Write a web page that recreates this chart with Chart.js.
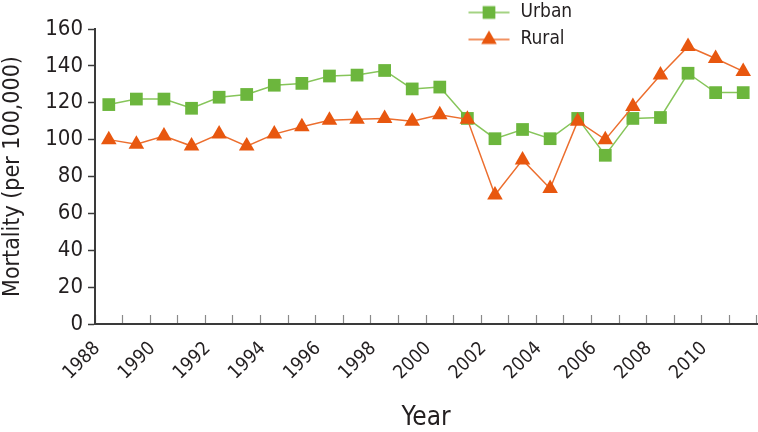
<!DOCTYPE html>
<html>
<head>
<meta charset="utf-8">
<script src="https://cdn.jsdelivr.net/npm/chart.js@4/dist/chart.umd.min.js"></script>
<style>
html,body{margin:0;padding:0;background:#fff;}
#c{display:block;}
</style>
</head>
<body>
<canvas id="c" width="758" height="432"></canvas>
<script>
// ---- data ----
const years = ['1988','1989','1990','1991','1992','1993','1994','1995','1996','1997','1998','1999',
               '2000','2001','2002','2003','2004','2005','2006','2007','2008','2009','2010','2011'];
const urban = [119,122,122,117,123,124.5,129.5,130.5,134.5,135,137.5,127.5,
               128.5,111.5,100.5,105.5,100.5,111.5,91.5,111.5,112,136,125.5,125.5];
const rural = [100,97.5,102,96.5,103,96.5,103,107,110.5,111,111.5,110,
               113.5,111,70,89,73.5,110,100,118,135,150.5,144,137];
const xTickLabels = ['1988','1990','1992','1994','1996','1998','2000','2002','2004','2006','2008','2010'];
const yTickValues = [0,20,40,60,80,100,120,140,160];
const seriesNames = ['Urban','Rural'];

// ---- styles ----
const FONT = "'Liberation Sans Narrow','DejaVu Sans Condensed','Roboto Condensed',sans-serif";
const TEXT = '#231f20';
const AXIS = '#3a3a3a';
const urbanLine = '#86c55a', urbanFill = '#6cb63d';
const ruralLine = '#ec6e2e', ruralFill = '#e8570f';

Chart.defaults.font.family = FONT;
Chart.defaults.color = TEXT;

function legendIcon(lineColor, fillColor, style) {
  const cv = document.createElement('canvas');
  cv.width = 44; cv.height = 22;
  const g = cv.getContext('2d');
  g.strokeStyle = lineColor; g.lineWidth = 1.5;
  g.beginPath(); g.moveTo(1.5, 11); g.lineTo(42.5, 11); g.stroke();
  g.fillStyle = fillColor; g.strokeStyle = fillColor;
  Chart.helpers.drawPoint(g, {pointStyle: style, radius: 9, borderWidth: 0, rotation: 0}, 22, 11);
  return cv;
}
const icons = [legendIcon(urbanLine, urbanFill, 'rect'), legendIcon(ruralLine, ruralFill, 'triangle')];

const placeLegend = {
  id: 'placeLegend',
  afterLayout(chart) {
    const l = chart.legend;
    if (!l) return;
    l.left = 459; l.top = -5; l.right = 640; l.bottom = 70;
    l.width = l.right - l.left; l.height = l.bottom - l.top;
  }
};

new Chart(document.getElementById('c'), {
  type: 'line',
  data: {
    labels: years,
    datasets: [
      {
        label: seriesNames[0], data: urban, order: 2,
        borderColor: urbanLine, borderWidth: 1.5, tension: 0,
        pointStyle: 'rect', pointRadius: 9, pointHoverRadius: 9,
        pointBackgroundColor: urbanFill, pointBorderColor: urbanFill, pointBorderWidth: 0
      },
      {
        label: seriesNames[1], data: rural, order: 1,
        borderColor: ruralLine, borderWidth: 1.5, tension: 0,
        pointStyle: 'triangle', pointRadius: 9, pointHoverRadius: 9,
        pointBackgroundColor: ruralFill, pointBorderColor: ruralFill, pointBorderWidth: 0
      }
    ]
  },
  options: {
    responsive: false,
    animation: false,
    devicePixelRatio: 1,
    layout: { autoPadding: false, padding: { top: 29, right: 1, left: 0, bottom: 0 } },
    plugins: {
      tooltip: { enabled: false },
      legend: {
        position: 'chartArea',
        align: 'start',
        labels: {
          usePointStyle: true,
          pointStyleWidth: 44,
          padding: 8,
          color: TEXT,
          font: { size: 19, family: FONT },
          generateLabels: (chart) => chart.data.datasets.map((d, i) => ({
            text: d.label, pointStyle: icons[i], datasetIndex: i,
            fontColor: TEXT, lineWidth: 0, hidden: false
          }))
        }
      }
    },
    scales: {
      x: {
        type: 'category',
        offset: true,
        afterFit: (s) => { s.height = 108; s.paddingLeft = 0; s.paddingRight = 0; },
        border: { display: true, color: AXIS, width: 2 },
        grid: { display: true, offset: true, drawOnChartArea: false, drawTicks: true,
                tickLength: -9, tickColor: '#8a8a8a', tickWidth: 1.2 },
        ticks: {
          autoSkip: false, minRotation: 45, maxRotation: 45, padding: 11,
          color: TEXT, font: { size: 19, family: FONT },
          callback: function (v, i) {
            const lab = this.getLabelForValue(v);
            return xTickLabels.includes(lab) ? lab + '   ' : '';
          }
        },
        title: { display: true, text: 'Year', color: TEXT,
                 font: { size: 26, family: FONT, lineHeight: 1 }, padding: { top: 0, bottom: 1 } }
      },
      y: {
        min: 0, max: 160,
        afterFit: (s) => { s.width = 95; },
        afterBuildTicks: (s) => { s.ticks = yTickValues.map(v => ({ value: v })); },
        border: { display: true, color: AXIS, width: 2 },
        grid: { display: true, drawOnChartArea: false, drawTicks: true,
                tickLength: 7, tickColor: AXIS, tickWidth: 1.5 },
        ticks: { padding: 5, color: TEXT, font: { size: 22, family: FONT } },
        title: { display: true, text: 'Mortality (per 100,000)', color: TEXT,
                 font: { size: 23, family: FONT, lineHeight: 1 }, padding: { top: 2, bottom: 0 } }
      }
    }
  },
  plugins: [placeLegend]
});
</script>
</body>
</html>
